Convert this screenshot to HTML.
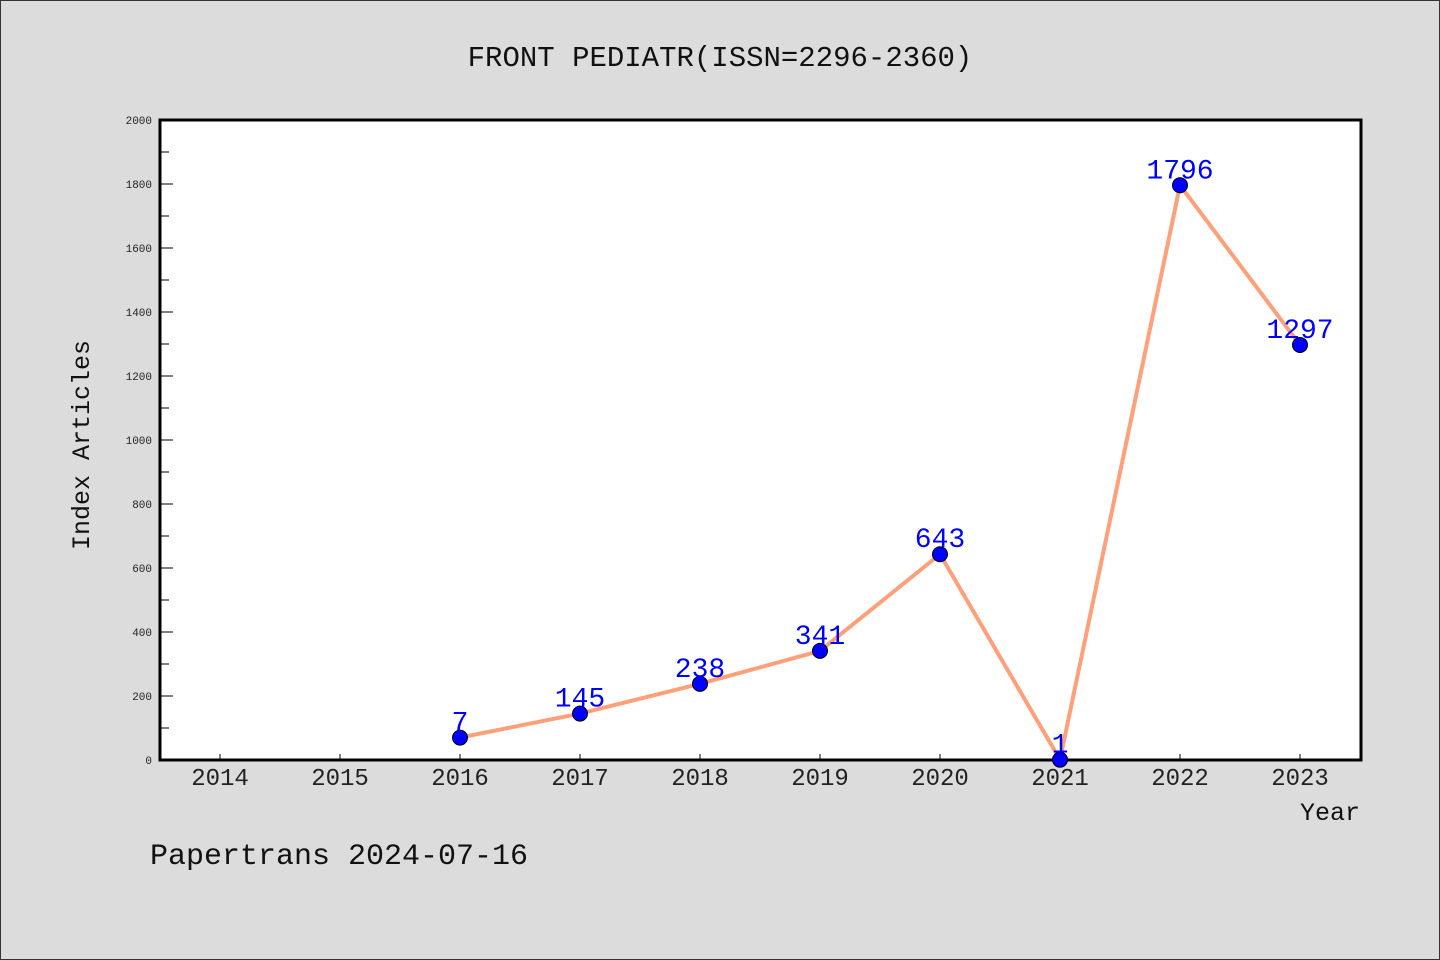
<!DOCTYPE html>
<html><head><meta charset="utf-8"><style>
body{margin:0;background:#dcdcdc;}
svg{display:block;font-family:"WenQuanYi Zen Hei","Liberation Mono",monospace;}
</style></head><body>
<svg width="1440" height="960" xmlns="http://www.w3.org/2000/svg">
<rect x="0.5" y="0.5" width="1439" height="959" fill="#dcdcdc" stroke="#333" stroke-width="1"/>
<text x="720" y="66" text-anchor="middle" font-size="29" fill="#111">FRONT PEDIATR(ISSN=2296-2360)</text>
<rect x="160" y="120" width="1201" height="640" fill="#fff" stroke="#000" stroke-width="3"/>
<g id="yaxis"></g><g id="xaxis"></g><g id="series"></g>
<text transform="translate(89,445) rotate(-90)" text-anchor="middle" font-size="25" fill="#111">Index Articles</text>
<text x="1360" y="820" text-anchor="end" font-size="25" fill="#111">Year</text>
<text x="150" y="864" font-size="30" fill="#111">Papertrans 2024-07-16</text>
</svg>
<script>
const years=['2014','2015','2016','2017','2018','2019','2020','2021','2022','2023'];
const seriesYears=['2016','2017','2018','2019','2020','2021','2022','2023'];
const values=[70,145,238,341,643,1,1796,1297];
const valueLabels=['7','145','238','341','643','1','1796','1297'];
const yTicks=[0,200,400,600,800,1000,1200,1400,1600,1800,2000];
const NS='http://www.w3.org/2000/svg';
const x=y=>220+years.indexOf(y)*120;
const yS=v=>760-v*0.32;
function mk(p,t,a){const e=document.createElementNS(NS,t);for(const k in a)e.setAttribute(k,a[k]);p.appendChild(e);return e;}
const ya=document.getElementById('yaxis'),xa=document.getElementById('xaxis'),sg=document.getElementById('series');
yTicks.forEach(v=>{
 const t=mk(ya,'line',{x1:160,x2:173,y1:yS(v),y2:yS(v),stroke:'#000','stroke-width':1});
 
 
 if(v<2000){const m=mk(ya,'line',{x1:160,x2:169,y1:yS(v+100),y2:yS(v+100),stroke:'#000','stroke-width':1});
 
 }
 const l=mk(ya,'text',{x:152,y:yS(v)+4,'text-anchor':'end','font-size':11,fill:'#222'});l.textContent=v;
 
 
});
years.forEach(y=>{
 const t=mk(xa,'line',{x1:x(y),x2:x(y),y1:754,y2:760,stroke:'#000','stroke-width':1});
 
 
 const l=mk(xa,'text',{x:x(y),y:785,'text-anchor':'middle','font-size':24,fill:'#222'});l.textContent=y;
 
 
});
const pl=mk(sg,'polyline',{points:seriesYears.map((y,i)=>x(y)+','+yS(values[i])).join(' '),fill:'none',stroke:'#ffa07a','stroke-width':4});


seriesYears.forEach((y,i)=>{
 const c=mk(sg,'circle',{cx:x(y),cy:yS(values[i]),r:7.5,fill:'#0000ff',stroke:'#000','stroke-width':1});
 
 
 const l=mk(sg,'text',{x:x(y),y:yS(values[i])-7,'text-anchor':'middle','font-size':28,fill:'#0000ff'});l.textContent=valueLabels[i];
 
 
});
</script>
</body></html>
